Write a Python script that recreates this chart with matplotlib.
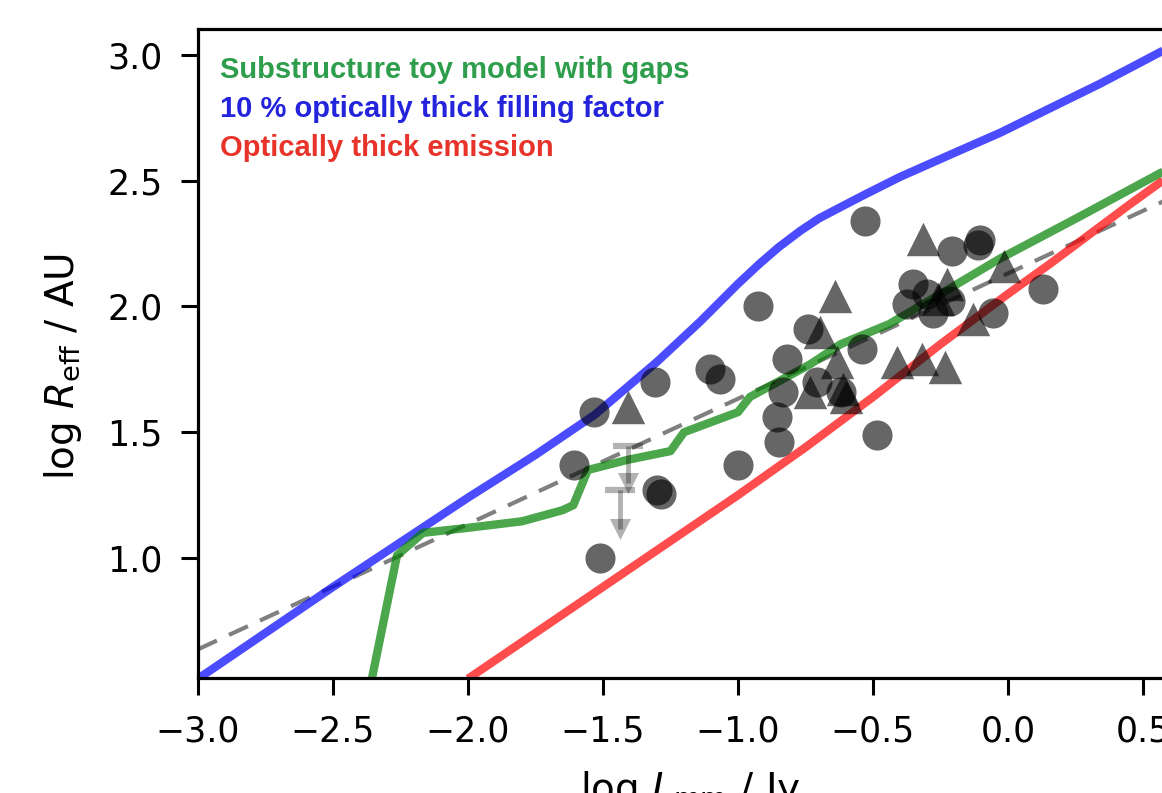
import matplotlib
matplotlib.use("Agg")
import matplotlib.pyplot as plt

# ---- data ----
blue_x = [-3.0, -2.5, -2.0, -1.75, -1.53, -1.3, -1.14, -1.0, -0.92, -0.85, -0.77, -0.70,
          -0.62, -0.53, -0.4, -0.2, -0.03, 0.15, 0.34, 0.5, 0.65]
blue_y = [0.52, 0.885, 1.24, 1.41, 1.57, 1.78, 1.94, 2.09, 2.17, 2.235, 2.30, 2.35,
          2.395, 2.445, 2.515, 2.61, 2.69, 2.785, 2.885, 2.975, 3.06]

red_x = [-2.0, -1.5, -1.0, -0.75, -0.5, -0.25, 0.0, 0.15, 0.3, 0.45, 0.65]
red_y = [0.52, 0.885, 1.25, 1.44, 1.64, 1.85, 2.05, 2.165, 2.285, 2.405, 2.56]

green_x = [-2.356, -2.263, -2.167, -2.0, -1.8, -1.65, -1.61, -1.556, -1.41, -1.25, -1.2,
           -1.0, -0.956, -0.87, -0.733, -0.62, -0.44, -0.25, -0.03, 0.27, 0.65]
green_y = [0.52, 1.01, 1.10, 1.12, 1.146, 1.19, 1.21, 1.35, 1.39, 1.425, 1.50,
           1.58, 1.64, 1.69, 1.77, 1.85, 1.93, 2.05, 2.19, 2.36, 2.58]

dash_x = [-3.0, 0.65]
dash_y = [0.637, 2.455]

circ_x = [-1.533, -1.607, -1.307, -1.511, -1.30, -1.285, -1.104, -1.067, -1.0, -0.926,
          -0.74, -0.819, -0.833, -0.856, -0.85, -0.707, -0.541, -0.485, -0.53, -0.352,
          -0.374, -0.278, -0.215, -0.207, -0.104, -0.11, -0.056, 0.13, -0.30, -0.62]
circ_y = [1.58, 1.37, 1.70, 1.00, 1.27, 1.255, 1.75, 1.71, 1.37, 2.0,
          1.91, 1.79, 1.66, 1.56, 1.46, 1.70, 1.83, 1.49, 2.34, 2.09,
          2.01, 1.975, 2.02, 2.22, 2.265, 2.245, 1.975, 2.07, 2.05, 1.66]

tri_x = [-1.407, -0.641, -0.696, -0.315, -0.411, -0.319, -0.233, -0.733, -0.611,
         -0.633, -0.13, -0.226, -0.015, -0.26, -0.60]
tri_y = [1.60, 2.04, 1.90, 2.27, 1.78, 1.79, 1.76, 1.66, 1.67,
         1.78, 1.95, 2.09, 2.16, 2.03, 1.64]

ul_x = [-1.407, -1.437]
ul_y = [1.445, 1.27]
ul_len = [0.145, 0.155]

labels = ["Substructure toy model with gaps",
          "10 % optically thick filling factor",
          "Optically thick emission"]
label_colors = ["#2e9e4c", "#2424dc", "#e8332b"]

# ---- figure ----
W, H = 1162, 793
fig = plt.figure(figsize=(W / 100, H / 100), dpi=100)
left, right, top, bottom = 198, 1183.5, 29, 678
ax = fig.add_axes([left / W, 1 - bottom / H, (right - left) / W, (bottom - top) / H])

ax.plot(dash_x, dash_y, color="gray", lw=3, dashes=(5, 3.2), zorder=1)
for xs, ys, c in [(blue_x, blue_y, "blue"), (red_x, red_y, "red"), (green_x, green_y, "green")]:
    ax.plot(xs, ys, color=c, alpha=0.7, lw=6, solid_capstyle="butt",
            solid_joinstyle="round", zorder=2)

ax.scatter(circ_x, circ_y, s=470, marker="o", color="black", alpha=0.6, linewidths=0, zorder=3)
ax.scatter(tri_x, tri_y, s=580, marker="^", color="black", alpha=0.6, linewidths=0, zorder=3)

# upper limits
ul_bot = [y - d for y, d in zip(ul_y, ul_len)]
ax.vlines(ul_x, ul_bot, ul_y, color="black", alpha=0.3, lw=3.5, zorder=3)
ax.scatter(ul_x, ul_y, marker="_", s=480, color="black", alpha=0.3, linewidths=4.5, zorder=3)
ax.scatter(ul_x, ul_bot, marker="v", s=230, color="black", alpha=0.3, linewidths=0, zorder=3)

ax.set_xlim(-3.0, 0.65)
ax.set_ylim(0.523, 3.103)
ax.set_xticks([-3.0, -2.5, -2.0, -1.5, -1.0, -0.5, 0.0, 0.5])
ax.set_yticks([1.0, 1.5, 2.0, 2.5, 3.0])

for s in ax.spines.values():
    s.set_linewidth(2.3)
ax.tick_params(axis="both", which="major", length=12, width=2.2, labelsize=25)
ax.tick_params(axis="x", pad=14)
ax.tick_params(axis="y", pad=13.5)

ax.set_xlabel(r"log $L_{\rm mm}$ / Jy", fontsize=28, labelpad=15)
ax.set_ylabel(r"log $R_{\rm eff}$ / AU", fontsize=28)
ax.yaxis.set_label_coords(-0.116, 0.48)

for i, (t, c) in enumerate(zip(labels, label_colors)):
    ax.text(0.022, 0.937 - i * 0.0605, t, transform=ax.transAxes, color=c,
            fontsize=21, fontweight="bold", family="Liberation Sans",
            va="center", ha="left")

fig.savefig("out.png", dpi=100)
